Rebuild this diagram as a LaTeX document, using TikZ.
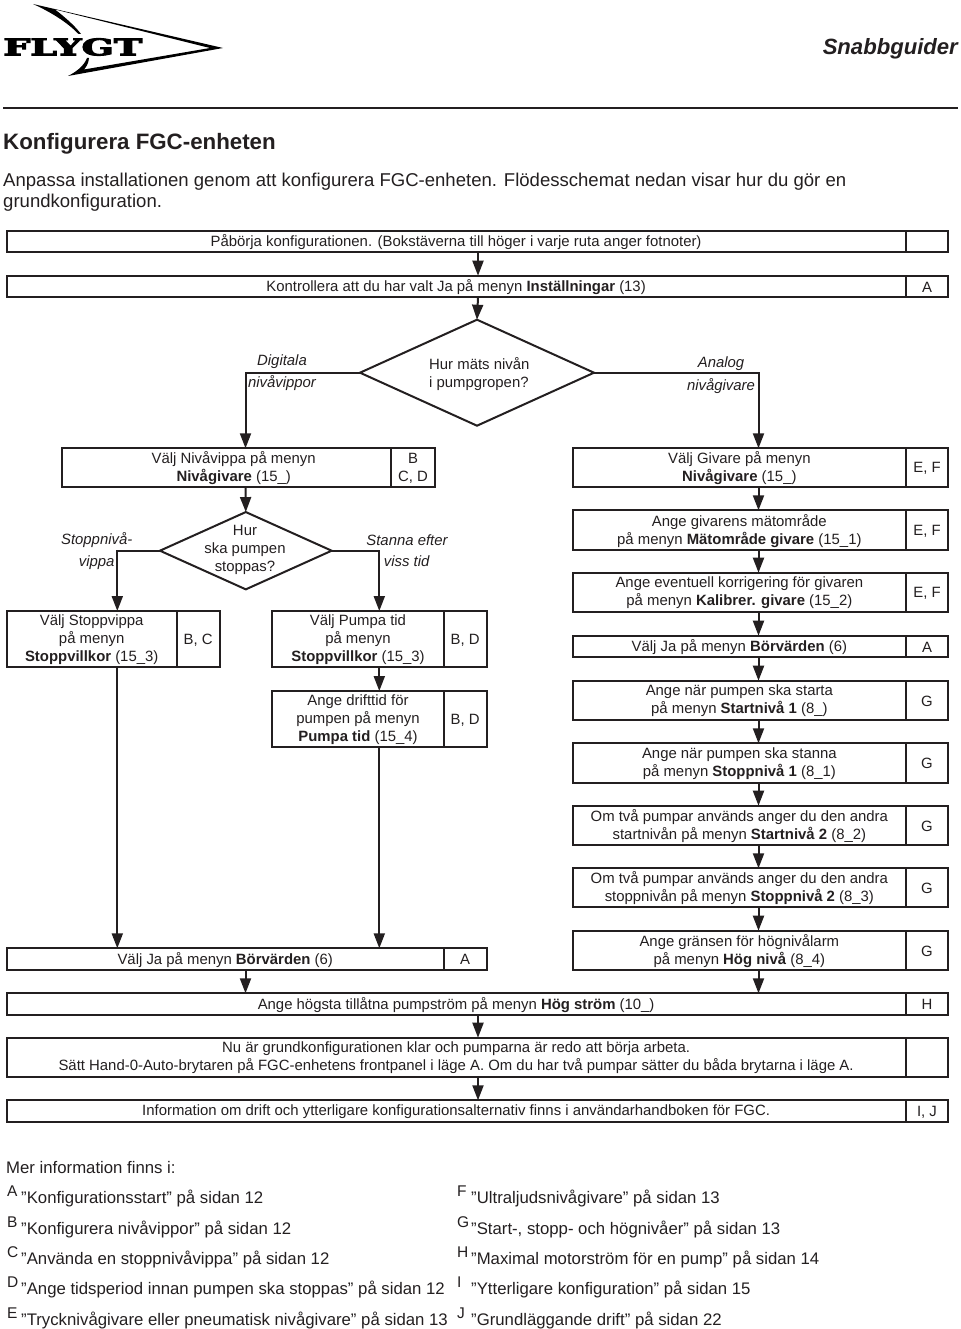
\documentclass[tikz,border=0pt]{standalone}
\usepackage{fontspec}
\setmainfont{Liberation Sans}
\newfontfamily\logofont[BoldFeatures={FakeBold=4}]{DejaVu Serif}
\usetikzlibrary{arrows.meta,shapes.geometric}
\definecolor{ink}{HTML}{231F20}
\tikzset{
  fcell/.style={draw=ink,line width=2pt,rectangle,inner sep=0pt,outer sep=0pt,anchor=north west},
  celltext/.style={text=ink,align=center,inner sep=0pt,yshift=-0.7pt,font=\fontsize{14.9}{18}\selectfont},
  arr/.style={draw=ink,line width=2pt,-{Triangle[length=15pt,width=11pt]}},
  dec/.style={draw=ink,line width=2pt,diamond,inner sep=0pt,outer sep=0pt},
  lab/.style={text=ink,align=center,font=\fontsize{14.9}{18}\selectfont\itshape,inner sep=0pt},
  dtext/.style={text=ink,font=\fontsize{14.9}{18}\selectfont,inner sep=0pt},
  noteletter/.style={text=ink,anchor=west,inner sep=0pt,font=\fontsize{15.5}{16}\selectfont},
  notetext/.style={text=ink,anchor=west,inner sep=0pt,font=\fontsize{16.75}{18}\selectfont},
}
% #1 name #2 x1 #3 split #4 x2 #5 y1 #6 y2 #7 text #8 note
\newcommand{\fcrow}[8]{%
  \node[fcell,minimum width={#3-#2},minimum height={#6-#5}] (#1) at (#2,-#5) {};
  \node[fcell,minimum width={#4-#3},minimum height={#6-#5}] (#1n) at (#3,-#5) {};
  \node[celltext] (#1t) at (#1.center) {#7};
  \node[celltext] (#1u) at (#1n.center) {#8};
}
\newcommand{\fnote}[5]{%
  \node[noteletter] (#1l) at (#2,-#4+5.5) {#1};
  \node[notetext] (#1t) at (#3,-#4-1.5) {#5};
}
\begin{document}
\begin{tikzpicture}[x=1pt,y=1pt]
\useasboundingbox (0,0) rectangle (960,-1329);
% logo
\begin{scope}[yscale=-1]
\fill[black] (33,4) -- (223,48) -- (68,76) .. controls (76,72) and (84,66) .. (87,58) -- (89,58) .. controls (88.5,64) and (86,67) .. (84,69.5) -- (210,48) -- (55,9.5) .. controls (66,18) and (75,26) .. (81,34) -- (78.5,34) .. controls (70,25) and (55,14) .. (33,4) -- cycle;
\end{scope}
\node[anchor=west,inner sep=0pt,xscale=1.58,yscale=0.95] (logo) at (3,-47) {\fontsize{24}{24}\logofont\bfseries FLYGT};
\node[anchor=east,inner sep=0pt,text=ink,font=\fontsize{22.1}{24}\selectfont\bfseries\itshape] (head) at (958,-49) {Snabbguider};
\coordinate (rl) at (3,-108);
\coordinate (rr) at (958,-108);
\draw[draw=ink,line width=1.3pt] (rl) -- (rr);
\node[anchor=west,inner sep=0pt,text=ink,font=\fontsize{22.3}{24}\selectfont\bfseries] (title) at (3,-143.5) {Konfigurera FGC-enheten};
\node[anchor=west,inner sep=0pt,text=ink,font=\fontsize{18.55}{22}\selectfont] (p1) at (3,-182) {Anpassa installationen genom att konfigurera FGC-enheten. Flödesschemat nedan visar hur du gör en};
\node[anchor=west,inner sep=0pt,text=ink,font=\fontsize{18.55}{22}\selectfont] (p2) at (3,-203) {grundkonfiguration.};
% axes
\coordinate (ca) at (478,0);
\coordinate (cb) at (245.5,0);
\coordinate (cc) at (758.5,0);
\coordinate (cl) at (117.3,0);
\coordinate (cr) at (379.3,0);
% full width rows
\fcrow{a1}{6.5}{905.7}{948.3}{230.7}{252.3}{Påbörja konfigurationen. (Bokstäverna till höger i varje ruta anger fotnoter)}{}
\fcrow{a2}{6.5}{905.7}{948.3}{275.7}{297.3}{Kontrollera att du har valt Ja på menyn \textbf{Inställningar} (13)}{A}
% first decision
\node[dec,minimum width=234pt,minimum height=106pt] (d1) at (477,-372.7) {};
\node[dtext,align=left,anchor=north west] (d1t) at (429,-357.5) {Hur mäts nivån\\i pumpgropen?};
\node[lab] (l1) at (282,-362) {Digitala};
\node[lab] (l2) at (282,-383) {nivåvippor};
\node[lab] (l3) at (721,-364) {Analog};
\node[lab] (l4) at (721,-386) {nivågivare};
% second row
\fcrow{b1}{61.7}{391.3}{434.7}{448.3}{487.3}{\hspace*{14.4pt}Välj Nivåvippa på menyn\\\hspace*{14.4pt}\textbf{Nivågivare} (15\_)}{B\\C, D}
\fcrow{g1}{573}{905.7}{948.3}{448.3}{487.3}{Välj Givare på menyn\\\textbf{Nivågivare} (15\_)}{E, F}
% second decision
\node[dec,minimum width=171.7pt,minimum height=77.3pt] (d2) at (245.8,-550.7) {};
\node[dtext,align=center] (d2t) at (245,-550) {Hur\\ska pumpen\\stoppas?};
\node[lab] (l5) at (96.7,-540) {Stoppnivå-};
\node[lab] (l6) at (96.7,-563) {vippa};
\node[lab] (l7) at (407,-540) {Stanna efter};
\node[lab] (l8) at (406.7,-561) {viss tid};
% left boxes
\fcrow{s1}{6.7}{176.7}{219.7}{611}{667.3}{Välj Stoppvippa\\på menyn\\\textbf{Stoppvillkor} (15\_3)}{B, C}
\fcrow{t1}{272.3}{443.7}{486.7}{611}{667.3}{Välj Pumpa tid\\på menyn\\\textbf{Stoppvillkor} (15\_3)}{B, D}
\fcrow{t2}{272.3}{443.7}{486.7}{691}{747.3}{Ange drifttid för\\pumpen på menyn\\\textbf{Pumpa tid} (15\_4)}{B, D}
\fcrow{v1}{6.7}{443.7}{486.7}{948.3}{970}{Välj Ja på menyn \textbf{Börvärden} (6)}{A}
% right column
\fcrow{g2}{573}{905.7}{948.3}{510.3}{550}{Ange givarens mätområde\\på menyn \textbf{Mätområde givare} (15\_1)}{E, F}
\fcrow{g3}{573}{905.7}{948.3}{572.7}{612}{Ange eventuell korrigering för givaren\\på menyn \textbf{Kalibrer. givare} (15\_2)}{E, F}
\fcrow{g4}{573}{905.7}{948.3}{635.7}{657}{Välj Ja på menyn \textbf{Börvärden} (6)}{A}
\fcrow{g5}{573}{905.7}{948.3}{680.7}{719.7}{Ange när pumpen ska starta\\på menyn \textbf{Startnivå 1} (8\_)}{G}
\fcrow{g6}{573}{905.7}{948.3}{743.3}{782.7}{Ange när pumpen ska stanna\\på menyn \textbf{Stoppnivå 1} (8\_1)}{G}
\fcrow{g7}{573}{905.7}{948.3}{805.7}{845}{Om två pumpar används anger du den andra\\startnivån på menyn \textbf{Startnivå 2} (8\_2)}{G}
\fcrow{g8}{573}{905.7}{948.3}{868.3}{907.3}{Om två pumpar används anger du den andra\\stoppnivån på menyn \textbf{Stoppnivå 2} (8\_3)}{G}
\fcrow{g9}{573}{905.7}{948.3}{930.7}{970}{Ange gränsen för högnivålarm\\på menyn \textbf{Hög nivå} (8\_4)}{G}
% bottom rows
\fcrow{e1}{6.5}{905.7}{948.3}{993.3}{1015}{Ange högsta tillåtna pumpström på menyn \textbf{Hög ström} (10\_)}{H}
\fcrow{e2}{6.5}{905.7}{948.3}{1037.7}{1077}{Nu är grundkonfigurationen klar och pumparna är redo att börja arbeta.\\Sätt Hand-0-Auto-brytaren på FGC-enhetens frontpanel i läge A. Om du har två pumpar sätter du båda brytarna i läge A.}{}
\fcrow{e3}{6.5}{905.7}{948.3}{1100.3}{1122}{Information om drift och ytterligare konfigurationsalternativ finns i användarhandboken för FGC.}{I, J}
% connectors
\draw[arr] (ca |- a1.south) -- (ca |- a2.north);
\draw[arr] (ca |- a2.south) -- (d1.north);
\draw[arr] (d1.west) -| (cb |- b1.north);
\draw[arr] (d1.east) -| (cc |- g1.north);
\draw[arr] (cb |- b1.south) -- (d2.north);
\draw[arr] (d2.west) -| (cl |- s1.north);
\draw[arr] (d2.east) -| (cr |- t1.north);
\draw[arr] (cr |- t1.south) -- (cr |- t2.north);
\draw[arr] (cl |- s1.south) -- (cl |- v1.north);
\draw[arr] (cr |- t2.south) -- (cr |- v1.north);
\draw[arr] (cb |- v1.south) -- (cb |- e1.north);
\draw[arr] (cc |- g1.south) -- (cc |- g2.north);
\draw[arr] (cc |- g2.south) -- (cc |- g3.north);
\draw[arr] (cc |- g3.south) -- (cc |- g4.north);
\draw[arr] (cc |- g4.south) -- (cc |- g5.north);
\draw[arr] (cc |- g5.south) -- (cc |- g6.north);
\draw[arr] (cc |- g6.south) -- (cc |- g7.north);
\draw[arr] (cc |- g7.south) -- (cc |- g8.north);
\draw[arr] (cc |- g8.south) -- (cc |- g9.north);
\draw[arr] (cc |- g9.south) -- (cc |- e1.north);
\draw[arr] (ca |- e1.south) -- (ca |- e2.north);
\draw[arr] (ca |- e2.south) -- (ca |- e3.north);
% notes
\node[notetext] (mi) at (6,-1167) {Mer information finns i:};
\fnote{A}{7}{21}{1197}{”Konfigurationsstart” på sidan 12}
\fnote{B}{7}{21}{1228}{”Konfigurera nivåvippor” på sidan 12}
\fnote{C}{7}{21}{1258}{”Använda en stoppnivåvippa” på sidan 12}
\fnote{D}{7}{21}{1288}{”Ange tidsperiod innan pumpen ska stoppas” på sidan 12}
\fnote{E}{7}{21}{1319}{”Trycknivågivare eller pneumatisk nivågivare” på sidan 13}
\fnote{F}{457}{471}{1197}{”Ultraljudsnivågivare” på sidan 13}
\fnote{G}{457}{471}{1228}{”Start-, stopp- och högnivåer” på sidan 13}
\fnote{H}{457}{471}{1258}{”Maximal motorström för en pump” på sidan 14}
\fnote{I}{457}{471}{1288}{”Ytterligare konfiguration” på sidan 15}
\fnote{J}{457}{471}{1319}{”Grundläggande drift” på sidan 22}
\end{tikzpicture}
\end{document}
